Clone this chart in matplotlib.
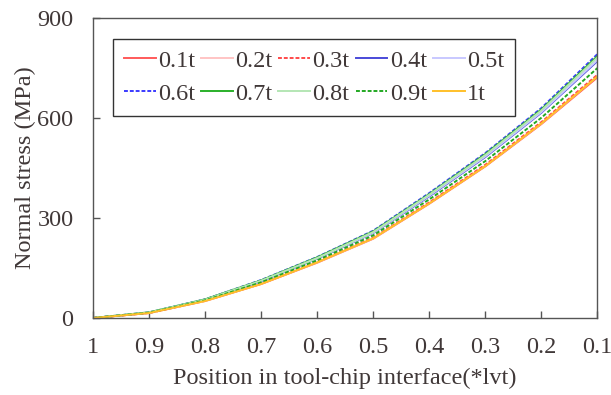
import matplotlib.pyplot as plt

plt.rcParams['font.family'] = ['Liberation Serif', 'DejaVu Serif']

position = [1, 0.9, 0.8, 0.7, 0.6, 0.5, 0.4, 0.3, 0.2, 0.1]

s01 = [0, 15, 51, 102, 166, 238, 343, 455, 582, 722]
s02 = [0, 15, 51, 103, 167, 239, 345, 457, 584, 726]
s03 = [0, 15, 52, 103, 168, 241, 347, 460, 588, 730]
s04 = [0, 16, 55, 110, 178, 255, 365, 483, 616, 771]
s05 = [0, 17, 55, 111, 179, 256, 367, 485, 618, 774]
s06 = [0, 17, 56, 114, 183, 262, 375, 495, 630, 792]
s07 = [0, 17, 56, 113, 182, 260, 372, 492, 626, 786]
s08 = [0, 17, 55, 112, 180, 258, 370, 489, 623, 782]
s09 = [0, 16, 53, 107, 173, 248, 356, 471, 601, 750]
s10 = [0, 15, 51, 102, 167, 239, 344, 456, 584, 725]

labels = ['0.1t', '0.2t', '0.3t', '0.4t', '0.5t',
          '0.6t', '0.7t', '0.8t', '0.9t', '1t']
series = [s01, s02, s03, s04, s05, s06, s07, s08, s09, s10]
colors = ['#ff5a5a', '#ffc4c4', '#ff4a4a', '#4a4ad8', '#c8c8ff',
          '#3a3aff', '#2ab02a', '#b4e6b4', '#22a822', '#ffc02a']
styles = ['-', '-', (0, (2, 1)), '-', '-',
          (0, (2, 1)), '-', '-', (0, (2, 1)), '-']

txt = '#403838'
fig = plt.figure(figsize=(6.11, 3.95), dpi=100)
ax = fig.add_axes([0.1522, 0.1949, 0.8257, 0.7595])

lines = []
for vals, lab, c, ls in zip(series, labels, colors, styles):
    ln, = ax.plot(position, vals, color=c, linestyle=ls, linewidth=1.4, label=lab)
    lines.append(ln)

ax.set_xlim(1, 0.1)
ax.set_ylim(0, 900)
ax.set_xticks(position)
ax.set_xticklabels(['1', '0.9', '0.8', '0.7', '0.6', '0.5', '0.4', '0.3', '0.2', '0.1'])
ax.set_yticks([0, 300, 600, 900])
ax.tick_params(direction='in', length=5, width=1, colors='#555555',
               labelcolor=txt, labelsize=17.5)
ax.tick_params(axis='x', pad=14)
ax.tick_params(axis='y', pad=14)
for sp in ax.spines.values():
    sp.set_color('#555555')
    sp.set_linewidth(1)

ax.set_xlabel('Position in tool-chip interface(*lvt)', fontsize=17.5, color=txt, labelpad=7)
ax.set_ylabel('Normal stress (MPa)', fontsize=17.5, color=txt, labelpad=1)

# legend is filled row by row in the original
order = [0, 5, 1, 6, 2, 7, 3, 8, 4, 9]
leg = ax.legend([lines[i] for i in order], [labels[i] for i in order],
                ncol=5, loc='upper left', bbox_to_anchor=(0.0396, 0.93),
                fontsize=17.5, handlelength=1.3, handletextpad=0.1,
                columnspacing=0.25, labelspacing=0.45, borderpad=0.45,
                fancybox=False, framealpha=1, borderaxespad=0)
leg.get_frame().set_edgecolor('#333333')
leg.get_frame().set_linewidth(1)
for t in leg.get_texts():
    t.set_color(txt)

fig.savefig('out.png', dpi=100)
